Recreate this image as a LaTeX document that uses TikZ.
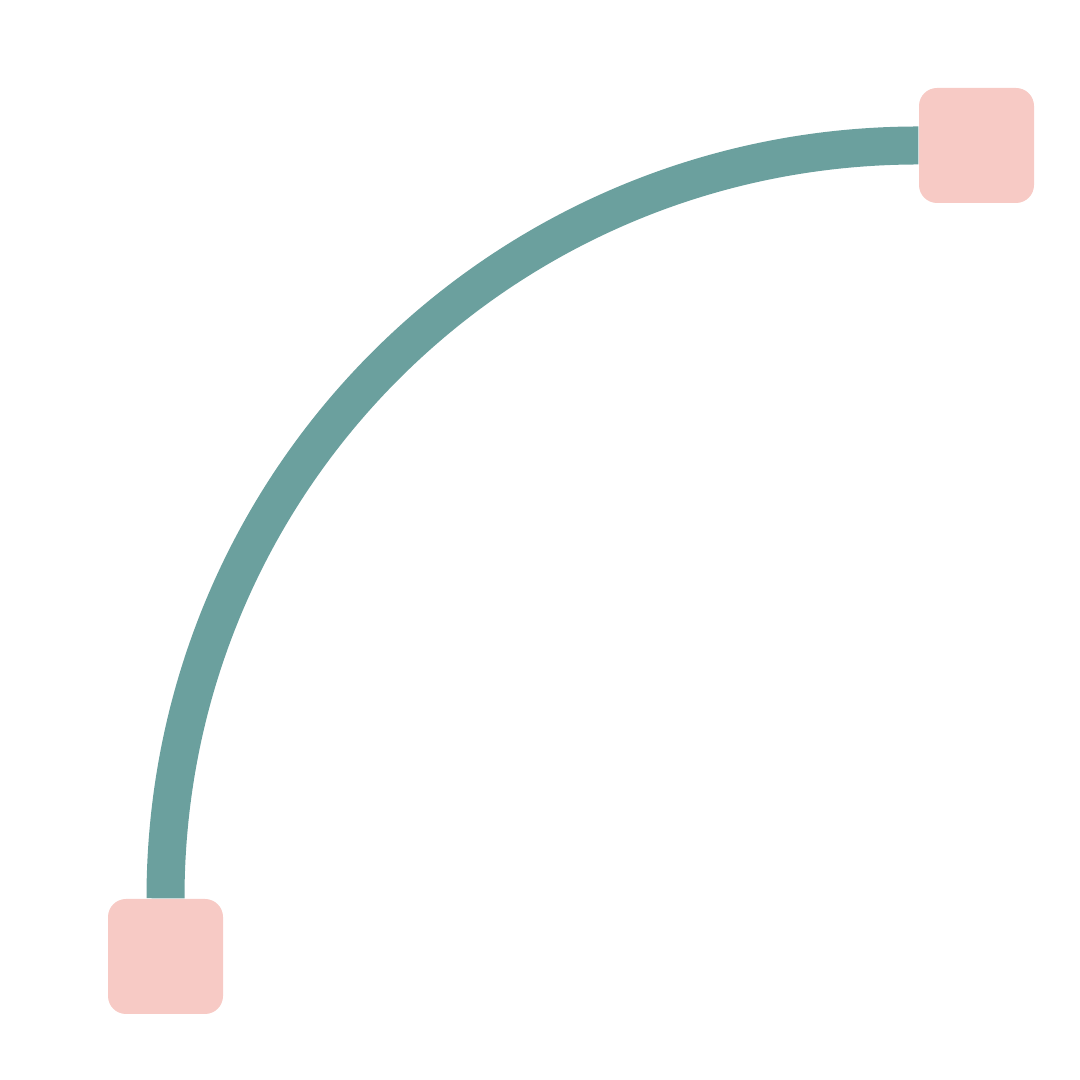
\documentclass[tikz,border=0pt]{standalone}
\usetikzlibrary{positioning}
\definecolor{padpink}{HTML}{F7CAC5}
\definecolor{linkteal}{HTML}{6BA09E}

\begin{document}
\begin{tikzpicture}[pad/.style={fill=padpink,rounded corners=1.8mm,minimum size=11.5mm,inner sep=0pt}, link/.style={draw=linkteal,line width=3.8mm}]
\useasboundingbox (0,0) rectangle (10.8,10.8);
\node[pad] (a) at (1.655,1.235) {};
\node[pad] (b) at (9.765,9.345) {};
\draw[link] (a.north) to[out=90,in=180] (b.west);
\end{tikzpicture}
\end{document}
